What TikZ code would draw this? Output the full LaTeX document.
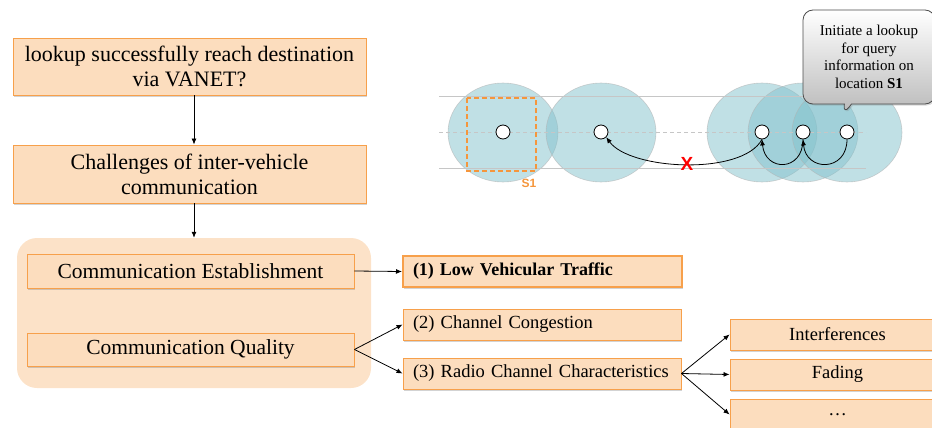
\documentclass[tikz,border=0pt]{standalone}
\usepackage{fontspec}
\setmainfont{Liberation Serif}
\setsansfont{Liberation Sans}
\usetikzlibrary{shadows,shapes.callouts,arrows.meta}
\definecolor{peach}{RGB}{252,221,190}
\definecolor{peachg}{RGB}{252,226,200}
\definecolor{orangeb}{RGB}{247,160,75}
\definecolor{cyanc}{RGB}{130,193,204}
\definecolor{sone}{RGB}{245,150,60}
\tikzset{
  box/.style={draw=orangeb, line width=0.9pt, fill=peach, inner sep=0pt,
    drop shadow={opacity=0.35, shadow xshift=1pt, shadow yshift=-1.5pt, fill=gray}},
  arr/.style={-{Latex[length=6pt,width=5pt]}, line width=0.8pt},
  car/.style={circle, draw=black, line width=0.8pt, fill=white, minimum size=14pt, inner sep=0pt},
}
\begin{document}
\begin{tikzpicture}[x=1pt,y=-1pt]
\useasboundingbox (0,0) rectangle (932,428);
% ----- left flow -----
\node[box, minimum width=353pt, minimum height=57pt, align=center, font=\fontsize{22}{25}\selectfont] (q) at (189.5,66.5) {lookup successfully reach destination\\via VANET?};
\node[box, minimum width=353pt, minimum height=58pt, align=center, font=\fontsize{22}{25}\selectfont] (ch) at (189.5,174) {Challenges of inter-vehicle\\communication};
\node[fill=peachg, rounded corners=20pt, minimum width=354pt, minimum height=150pt, inner sep=0pt] (grp) at (194,313) {};
\node[box, minimum width=327pt, minimum height=34pt, font=\fontsize{21.5}{24}\selectfont] (ce) at (190.5,271) {Communication Establishment};
\node[box, minimum width=327pt, minimum height=33pt, font=\fontsize{21.5}{24}\selectfont] (cq) at (190.5,349.5) {Communication Quality};
\draw[arr] (q.south -| 194,0) -- (ch.north -| 194,0);
\draw[arr] (ch.south -| 194,0) -- (grp.north -| 194,0);
% ----- challenges -----
\node[box, line width=2pt, minimum width=279pt, minimum height=31pt, text width=259pt, align=left, font=\fontsize{18}{20}\selectfont\bfseries] (c1) at (542.5,271.5) {(1) Low Vehicular Traffic};
\node[box, minimum width=278pt, minimum height=31pt, text width=258pt, align=left, font=\fontsize{18.5}{20}\selectfont] (c2) at (542,324.5) {(2) Channel Congestion};
\node[box, minimum width=278pt, minimum height=31pt, text width=258pt, align=left, font=\fontsize{18.5}{20}\selectfont] (c3) at (542,373.5) {(3) Radio Channel Characteristics};
\node[box, minimum width=215pt, minimum height=31pt, font=\fontsize{18.5}{20}\selectfont] (i1) at (837.5,334.5) {Interferences};
\node[box, minimum width=215pt, minimum height=31pt, font=\fontsize{18.5}{20}\selectfont] (i2) at (837.5,374.5) {Fading};
\node[box, minimum width=215pt, minimum height=31pt, font=\fontsize{18.5}{20}\selectfont] (i3) at (837.5,414.5) {\dots};
\draw[arr] (ce.east) -- (c1.west);
\draw[arr] (cq.east) -- (c2.west);
\draw[arr] (cq.east) -- (c3.west);
\draw[arr] (c3.east) -- (i1.west);
\draw[arr] (c3.east) -- (i2.west);
\draw[arr] (c3.east) -- (i3.west);
% ----- scene -----
\foreach \cx in {503,601,762,803,847}{
  \fill[cyanc, fill opacity=0.5] (\cx,132.5) ellipse (55pt and 49.5pt);
  \draw[gray!60, line width=0.6pt, opacity=0.6] (\cx,132.5) ellipse (55pt and 49.5pt);
}
\draw[gray!45, line width=0.8pt] (439,96) -- (866,96);
\draw[gray!45, line width=0.8pt] (439,168) -- (866,168);
\draw[gray!45, line width=0.8pt, dash pattern=on 4pt off 3pt] (439,132) -- (866,132);
\draw[sone, line width=1.2pt, dash pattern=on 5pt off 3pt] (467,98) rectangle (536,171);
\node[font=\sffamily\bfseries\fontsize{12}{12}\selectfont, text=sone] (s1) at (529,183) {S1};
\node[car] (n1) at (503,132) {};
\node[car] (n2) at (601,132) {};
\node[car] (n3) at (762,132) {};
\node[car] (n4) at (803,132) {};
\node[car] (n5) at (847,132) {};
\draw[arr] (n5.south) .. controls (847,172) and (806,172) .. (n4.south);
\draw[arr] (n4.south) .. controls (803,172) and (765,172) .. (n3.south);
\draw[arr] (n3.south) .. controls (742,176) and (630,170) .. (n2.south east);
\node[font=\sffamily\bfseries\fontsize{19}{19}\selectfont, text=red] (x) at (687,164) {X};
\coordinate (ptr) at (843,115);
\node[rectangle callout, callout absolute pointer={(ptr)}, rounded corners=10pt, draw=black!70, line width=0.8pt,
  top color=white, bottom color=gray!55, minimum width=132pt, minimum height=94pt, align=center,
  font=\fontsize{15}{17.5}\selectfont, inner sep=0pt,
  drop shadow={opacity=0.3, shadow xshift=1.5pt, shadow yshift=-1.5pt}] (co) at (869,57)
  {Initiate a lookup\\for query\\information on\\location \textbf{S1}};
\end{tikzpicture}
\end{document}
